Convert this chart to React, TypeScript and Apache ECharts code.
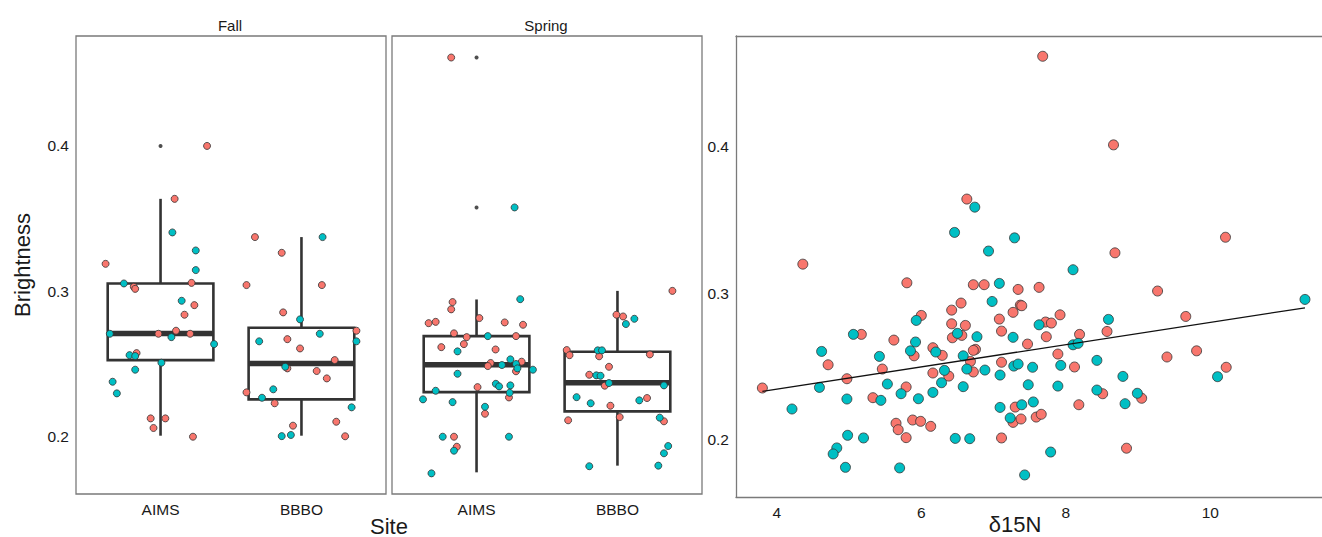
import React, { useEffect, useRef } from "react";
import * as echarts from "echarts";

const PINK = "#F8766D";
const TEAL = "#00BFC4";
const FONT = "Liberation Sans, Arial, sans-serif";

const siteCategories = ["AIMS", "BBBO"];
const yTicks = [0.2, 0.3, 0.4];
const xTicksN15 = [4, 6, 8, 10];

// box stats: [site index (1-based), lowWhisker, Q1, median, Q3, highWhisker]
const fallBoxStats = [
  [1, 0.2007, 0.2527, 0.271, 0.3054, 0.3636],
  [2, 0.2007, 0.2257, 0.2504, 0.2749, 0.3373],
];
const springBoxStats = [
  [1, 0.1755, 0.2307, 0.2495, 0.2692, 0.2944],
  [2, 0.1801, 0.2174, 0.2371, 0.2584, 0.3003],
];
const fallOutliers = [[1, 0.4]];
const springOutliers = [[1, 0.4608], [1, 0.3577]];

// jittered points: [offset from category centre, brightness]
const fallAimsPink = [[0.33,0.4],[0.10,0.3636],[-0.39,0.3189],[-0.19,0.3031],[-0.18,0.3017],[0.22,0.3058],[0.24,0.2905],[0.17,0.2839],[-0.015,0.2708],[0.11,0.2729],[0.21,0.2708],[-0.17,0.2575],[-0.07,0.2126],[0.034,0.2126],[-0.05,0.2060],[0.23,0.2]];
const fallAimsTeal = [[0.084,0.3405],[0.25,0.3281],[0.25,0.3146],[-0.26,0.3054],[0.15,0.2935],[-0.36,0.2708],[0.077,0.2685],[0.38,0.2637],[-0.22,0.2561],[-0.18,0.2555],[0.006,0.2509],[-0.18,0.2461],[-0.34,0.2378],[-0.31,0.2298]];
const fallBbboPink = [[-0.33,0.3373],[-0.14,0.3265],[-0.39,0.3043],[0.145,0.3043],[-0.13,0.2855],[0.39,0.2729],[-0.10,0.2671],[-0.01,0.2607],[0.236,0.2527],[-0.10,0.2470],[0.108,0.2452],[0.18,0.2401],[-0.39,0.2305],[-0.19,0.2230],[0.247,0.2103],[-0.06,0.2076],[0.31,0.2003]];
const fallBbboTeal = [[0.15,0.3373],[-0.01,0.2807],[0.13,0.2708],[-0.30,0.2656],[0.39,0.2656],[-0.115,0.2481],[-0.2,0.2326],[-0.28,0.2268],[0.356,0.2202],[-0.14,0.2004],[-0.075,0.2012]];
const springAimsPink = [[-0.18,0.4608],[-0.17,0.2926],[-0.18,0.2876],[-0.34,0.2781],[-0.29,0.2790],[0.02,0.2816],[0.20,0.2786],[0.33,0.2770],[-0.16,0.2711],[-0.07,0.2685],[0.28,0.2692],[-0.09,0.2637],[-0.25,0.2616],[0.135,0.26],[0.32,0.2516],[0.10,0.2507],[0.08,0.2486],[0.28,0.2450],[0.007,0.2341],[0.23,0.2270],[0.06,0.2158],[-0.16,0.2],[-0.14,0.1931]];
const springAimsTeal = [[0.27,0.3577],[0.31,0.2946],[0.08,0.2692],[-0.135,0.2587],[0.24,0.2532],[0.18,0.2493],[0.28,0.25],[0.29,0.2470],[0.40,0.2461],[-0.135,0.2433],[0.137,0.2364],[0.16,0.2346],[0.24,0.2353],[-0.29,0.2316],[0.235,0.2302],[-0.38,0.2257],[-0.17,0.2238],[0.06,0.2206],[-0.24,0.2],[0.23,0.2],[-0.16,0.1904],[-0.32,0.1748]];
const springBbboPink = [[0.39,0.3003],[-0.007,0.2839],[0.04,0.2827],[-0.36,0.2596],[-0.34,0.2561],[-0.13,0.2553],[0.23,0.2566],[-0.06,0.2481],[-0.2,0.2426],[-0.09,0.2351],[0.21,0.2266],[-0.05,0.2213],[0.016,0.2135],[-0.35,0.2113],[0.33,0.2106]];
const springBbboTeal = [[0.12,0.2811],[0.06,0.2775],[-0.14,0.2594],[-0.11,0.2594],[-0.15,0.2422],[-0.12,0.2419],[-0.06,0.2369],[0.33,0.2353],[-0.29,0.2272],[0.155,0.2250],[-0.19,0.2230],[0.30,0.2131],[0.36,0.1936],[0.33,0.1886],[-0.2,0.1797],[0.29,0.1801]];

// scatter: [δ15N, brightness]
const n15Pink = [[4.36,0.3197],[6.63,0.364],[7.68,0.4612],[8.66,0.4009],[10.21,0.338],[8.68,0.3274],[5.80,0.307],[6.72,0.3057],[6.87,0.3057],[7.34,0.3025],[6.55,0.2932],[6.42,0.2884],[7.27,0.2869],[7.37,0.2918],[6.0,0.2848],[7.08,0.2823],[6.42,0.2791],[6.61,0.278],[7.11,0.2741],[5.17,0.2719],[6.56,0.2712],[6.43,0.2696],[5.62,0.268],[6.16,0.2628],[6.75,0.2617],[6.72,0.261],[5.90,0.2573],[6.29,0.2576],[4.71,0.2512],[6.68,0.2535],[7.11,0.2529],[5.46,0.2483],[6.72,0.2463],[6.16,0.2456],[6.38,0.2435],[4.97,0.2417],[5.79,0.2361],[3.80,0.2354],[5.33,0.2288],[7.30,0.2224],[7.27,0.212],[5.88,0.2136],[5.99,0.2127],[5.65,0.2114],[6.13,0.2093],[5.68,0.207],[5.79,0.2016],[7.11,0.2014],[7.63,0.3039],[9.27,0.3014],[7.39,0.2914],[9.66,0.2841],[7.92,0.2852],[7.72,0.2803],[7.80,0.2796],[7.73,0.2703],[8.57,0.2739],[8.19,0.2719],[7.47,0.2653],[9.81,0.2607],[7.89,0.2585],[9.40,0.2565],[8.12,0.2497],[10.22,0.2495],[8.51,0.2315],[9.05,0.2284],[8.18,0.224],[7.38,0.2143],[7.59,0.2156],[7.66,0.2175],[8.84,0.1944]];
const n15Teal = [[6.74,0.3585],[6.46,0.3413],[7.29,0.3376],[6.93,0.3286],[8.1,0.3159],[7.08,0.3066],[6.98,0.2943],[5.93,0.2814],[5.06,0.2719],[6.50,0.2726],[6.77,0.2703],[7.27,0.2699],[5.92,0.2667],[4.62,0.2603],[5.85,0.2607],[6.20,0.2599],[5.42,0.2569],[6.58,0.2573],[7.28,0.2503],[6.63,0.2483],[6.88,0.2476],[6.32,0.2474],[7.09,0.2442],[6.28,0.239],[5.53,0.2381],[4.59,0.2358],[6.58,0.2363],[5.72,0.2315],[6.16,0.2324],[4.97,0.2279],[5.44,0.227],[5.96,0.2281],[4.21,0.2211],[7.09,0.2222],[7.23,0.215],[4.98,0.2032],[5.20,0.2014],[6.47,0.2011],[6.67,0.2009],[4.83,0.1946],[4.78,0.1905],[4.95,0.1814],[5.70,0.181],[11.31,0.2957],[7.63,0.2784],[8.59,0.2821],[8.10,0.2648],[8.17,0.2658],[8.43,0.2542],[7.34,0.2517],[7.54,0.2495],[7.93,0.2508],[10.10,0.2431],[8.79,0.2433],[7.48,0.2376],[7.89,0.2367],[8.43,0.234],[8.99,0.2318],[8.82,0.2247],[7.55,0.2259],[7.39,0.224],[7.79,0.1918],[7.43,0.1762]];
const fitLine = [[3.8, 0.2331], [11.31, 0.29]];

function place(cat: number, pts: number[][]) {
  return pts.map((p) => [cat + p[0], p[1]]);
}

export default function App() {
  const ref = useRef<HTMLDivElement>(null);
  useEffect(() => {
    document.body.style.margin = "0";
    const chart = echarts.init(ref.current!, undefined, { renderer: "svg" });
    const labelStyle = { color: "#1a1a1a", fontSize: 15.5, fontFamily: FONT };
    const borderLine = { show: true, onZero: false, lineStyle: { color: "#7a7a7a", width: 1.3 } };
    const boxRender = (params: any, api: any) => {
      const x = api.value(0);
      const lo = api.coord([x, api.value(1)]);
      const q1 = api.coord([x, api.value(2)]);
      const md = api.coord([x, api.value(3)]);
      const q3 = api.coord([x, api.value(4)]);
      const hi = api.coord([x, api.value(5)]);
      const hw = api.size([0.75, 0])[0] / 2;
      const cx = q1[0];
      const st = { stroke: "#333333", lineWidth: 2.6, fill: null };
      return {
        type: "group",
        children: [
          { type: "line", shape: { x1: cx, y1: hi[1], x2: cx, y2: q3[1] }, style: st },
          { type: "line", shape: { x1: cx, y1: q1[1], x2: cx, y2: lo[1] }, style: st },
          { type: "rect", shape: { x: cx - hw, y: q3[1], width: 2 * hw, height: q1[1] - q3[1] }, style: { ...st, fill: "rgba(0,0,0,0)" } },
          { type: "line", shape: { x1: cx - hw, y1: md[1], x2: cx + hw, y2: md[1] }, style: { stroke: "#333333", lineWidth: 5.5 } },
        ],
      };
    };
    const catX = (gi: number) => ({
      type: "value",
      gridIndex: gi,
      min: 0.4,
      max: 2.6,
      axisLine: { show: false },
      axisTick: { show: false },
      splitLine: { show: false },
      axisLabel: {
        ...labelStyle,
        margin: 7,
        customValues: [1, 2],
        formatter: (v: number) => siteCategories[Math.round(v) - 1] ?? "",
      },
    });
    const yAx = (gi: number, show: boolean, min: number, max: number, line: boolean) => ({
      type: "value",
      gridIndex: gi,
      min,
      max,
      axisLine: line ? borderLine : { show: false },
      axisTick: { show: false },
      splitLine: { show: false },
      axisLabel: { ...labelStyle, show, margin: 7, customValues: yTicks, formatter: (v: number) => v.toFixed(1) },
    });
    const pts = (name: string, xi: number, data: number[][], color: string, size: number) => ({
      type: "scatter",
      name,
      xAxisIndex: xi,
      yAxisIndex: xi,
      data,
      symbolSize: size,
      z: 4,
      itemStyle: { color, borderColor: "#333333", borderWidth: 0.8, opacity: 1 },
    });
    const gridStyle = { show: true, borderColor: "#7a7a7a", borderWidth: 1.3, backgroundColor: "transparent" };
    const n15Min = 3.435;
    const n15Max = 3.435 + 586 / 72.25;
    chart.setOption({
      animation: false,
      textStyle: { fontFamily: FONT },
      grid: [
        { left: 76, top: 36, width: 310, height: 458, ...gridStyle },
        { left: 392, top: 36, width: 310, height: 458, ...gridStyle },
        { left: 736, top: 36, width: 586, height: 461, show: false },
      ],
      xAxis: [
        catX(0),
        catX(1),
        {
          type: "value",
          gridIndex: 2,
          min: n15Min,
          max: n15Max,
          position: "bottom",
          axisLine: borderLine,
          axisTick: { show: false },
          splitLine: { show: false },
          axisLabel: { ...labelStyle, margin: 7, customValues: xTicksN15 },
        },
        {
          type: "value",
          gridIndex: 2,
          min: n15Min,
          max: n15Max,
          position: "top",
          axisLine: borderLine,
          axisTick: { show: false },
          splitLine: { show: false },
          axisLabel: { show: false },
        },
      ],
      yAxis: [
        yAx(0, true, 0.1606, 0.4756, false),
        yAx(1, false, 0.1606, 0.4756, false),
        yAx(2, true, 0.1612, 0.475, true),
      ],
      series: [
        { type: "custom", xAxisIndex: 0, yAxisIndex: 0, data: fallBoxStats, renderItem: boxRender, encode: { x: 0, y: [1, 2, 3, 4, 5] }, z: 2 },
        { type: "custom", xAxisIndex: 1, yAxisIndex: 1, data: springBoxStats, renderItem: boxRender, encode: { x: 0, y: [1, 2, 3, 4, 5] }, z: 2 },
        { type: "scatter", xAxisIndex: 0, yAxisIndex: 0, data: fallOutliers, symbolSize: 4, itemStyle: { color: "#222" }, z: 3 },
        { type: "scatter", xAxisIndex: 1, yAxisIndex: 1, data: springOutliers, symbolSize: 4, itemStyle: { color: "#222" }, z: 3 },
        pts("fallAimsPink", 0, place(1, fallAimsPink), PINK, 7),
        pts("fallAimsTeal", 0, place(1, fallAimsTeal), TEAL, 7),
        pts("fallBbboPink", 0, place(2, fallBbboPink), PINK, 7),
        pts("fallBbboTeal", 0, place(2, fallBbboTeal), TEAL, 7),
        pts("springAimsPink", 1, place(1, springAimsPink), PINK, 7),
        pts("springAimsTeal", 1, place(1, springAimsTeal), TEAL, 7),
        pts("springBbboPink", 1, place(2, springBbboPink), PINK, 7),
        pts("springBbboTeal", 1, place(2, springBbboTeal), TEAL, 7),
        pts("n15Pink", 2, n15Pink, PINK, 10),
        pts("n15Teal", 2, n15Teal, TEAL, 10),
        {
          type: "line",
          xAxisIndex: 2,
          yAxisIndex: 2,
          data: fitLine,
          symbol: "none",
          z: 5,
          lineStyle: { color: "#111", width: 1.3 },
        },
      ],
      graphic: [
        { type: "text", x: 230, y: 25, style: { text: "Fall", font: `15px ${FONT}`, fill: "#1a1a1a", textAlign: "center", textVerticalAlign: "middle" } },
        { type: "text", x: 546, y: 25, style: { text: "Spring", font: `15px ${FONT}`, fill: "#1a1a1a", textAlign: "center", textVerticalAlign: "middle" } },
        { type: "text", x: 22, y: 265, rotation: Math.PI / 2, style: { text: "Brightness", font: `22px ${FONT}`, fill: "#1a1a1a", textAlign: "center", textVerticalAlign: "middle" } },
        { type: "text", x: 389, y: 526, style: { text: "Site", font: `22px ${FONT}`, fill: "#1a1a1a", textAlign: "center", textVerticalAlign: "middle" } },
        { type: "text", x: 1015, y: 524, style: { text: "δ15N", font: `22px ${FONT}`, fill: "#1a1a1a", textAlign: "center", textVerticalAlign: "middle" } },
      ],
    });
    return () => chart.dispose();
  }, []);
  return <div ref={ref} style={{ width: 1322, height: 537 }} />;
}
